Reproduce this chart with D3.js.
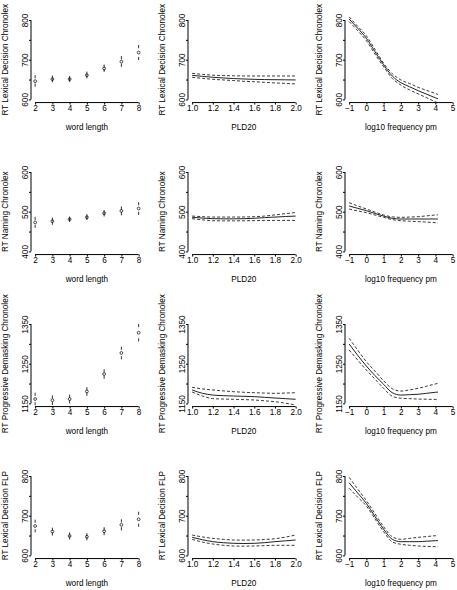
<!DOCTYPE html>
<html>
<head>
<meta charset="utf-8">
<script src="https://cdn.jsdelivr.net/npm/d3@7"></script>
<style>
  html, body { margin: 0; padding: 0; background: #fff; }
  svg text { font-family: "Liberation Sans", Arial, Helvetica, sans-serif; fill: #000; }
</style>
</head>
<body>
<div id="chart"></div>
<script>
// ---------- data ----------
const rowTitles = ["RT Lexical Decision Chronolex", "RT Naming Chronolex",
                   "RT Progressive Demasking Chronolex", "RT Lexical Decision FLP"];
const yLimits = [[600, 800], [400, 600], [1150, 1350], [600, 800]];
const xTitles = ["word length", "PLD20", "log10 frequency pm"];
const xLimits = [[2, 8], [1, 2], [-1, 5]];
const xTickValues = [[2, 3, 4, 5, 6, 7, 8], [1.0, 1.2, 1.4, 1.6, 1.8, 2.0], [-1, 0, 1, 2, 3, 4, 5]];

// word length effects (point estimate, lower, upper)
const wordLength = [2, 3, 4, 5, 6, 7, 8];
const lenFitLDC = [646, 651, 651, 661, 678, 695, 718];
const lenLoLDC  = [636, 647, 648, 657, 673, 686, 703];
const lenHiLDC  = [657, 656, 655, 666, 684, 705, 733];
const lenFitNC  = [473, 476, 481, 486, 496, 502, 508];
const lenLoNC   = [463, 471, 478, 483, 492, 495, 496];
const lenHiNC   = [483, 481, 484, 490, 500, 509, 520];
const lenFitPDC = [1161, 1158, 1161, 1180, 1224, 1277, 1328];
const lenLoPDC  = [1149, 1150, 1154, 1173, 1216, 1265, 1310];
const lenHiPDC  = [1173, 1166, 1168, 1187, 1232, 1289, 1346];
const lenFitFLP = [674, 660, 649, 647, 661, 677, 691];
const lenLoFLP  = [662, 654, 644, 642, 655, 667, 676];
const lenHiFLP  = [686, 666, 654, 652, 667, 687, 706];

// PLD20 effects
const pld20 = [1.0, 1.1, 1.2, 1.3, 1.4, 1.5, 1.6, 1.7, 1.8, 1.9, 2.0];
const pldFitLDC = [660.7, 658, 655.7, 654, 652.5, 651.4, 650.5, 650, 649.6, 649.3, 649];
const pldHiLDC  = [665.7, 663, 661, 660, 659.5, 659, 659, 659, 659, 659, 659];
const pldLoLDC  = [655.7, 653, 650.6, 649, 647.5, 645.6, 644.5, 643, 641.5, 640.3, 639];
const pldFitNC  = [485.9, 484, 482.4, 482, 482, 482.4, 483.5, 485, 486.5, 487.8, 489];
const pldHiNC   = [489, 487.5, 486.5, 486.5, 486.5, 486.7, 487.5, 489, 492, 495, 498];
const pldLoNC   = [482.4, 479.5, 477.4, 477, 477, 477.2, 477.5, 478, 478, 478, 478];
const pldFitPDC = [1183.8, 1175.4, 1171, 1169.5, 1168.6, 1167.8, 1167, 1165.3, 1163.6, 1162, 1160.3];
const pldHiPDC  = [1190.4, 1186.5, 1183.8, 1181.5, 1179.5, 1178, 1177, 1176, 1175.4, 1176, 1177];
const pldLoPDC  = [1178.7, 1168.6, 1162, 1161, 1160.3, 1159.5, 1158.6, 1156.5, 1154.3, 1150.5, 1146];
const pldFitFLP = [645.5, 639.5, 634.6, 632, 630.4, 630, 630.4, 632, 634.6, 636.7, 638.8];
const pldHiFLP  = [651.4, 646.5, 643, 640.5, 638.8, 638.5, 638.8, 640, 642, 646, 651.4];
const pldLoFLP  = [640.5, 633.5, 628.7, 625.5, 623.7, 623.3, 623.7, 624.5, 625.4, 625.4, 625.4];

// log10 frequency effects
const logFreq = [-1, -0.5, 0, 0.5, 1, 1.5, 2, 2.5, 3, 3.5, 4, 4.15];
const frqFitLDC = [802.5, 779, 754, 720, 687, 659, 642, 632, 622, 613, 604, 601.5];
const frqHiLDC  = [808, 784, 760, 726, 691, 665, 649, 640, 630.5, 622.5, 615, 612.5];
const frqLoLDC  = [796, 773, 748, 714, 682, 653, 636, 624, 614, 604, 594, 591];
const frqFitNC  = [514.4, 508.5, 502.6, 495.5, 489, 483.3, 481.6, 481.6, 481.6, 481.6, 481.6, 481.6];
const frqHiNC   = [522.7, 514.5, 506.8, 499, 491.7, 487, 485.8, 486.5, 487.5, 489.5, 491.7, 492.2];
const frqLoNC   = [506.8, 502, 497.6, 491.5, 485.8, 480, 477.4, 476, 475, 473.7, 472.4, 472];
const frqFitPDC = [1299.6, 1271, 1244, 1220, 1198, 1177, 1171, 1172, 1173, 1175.5, 1178, 1178.5];
const frqHiPDC  = [1314, 1284, 1255, 1231, 1207, 1187, 1181, 1184, 1188, 1193.5, 1199, 1200.5];
const frqLoPDC  = [1284.5, 1259, 1234, 1211, 1188, 1168, 1163, 1162, 1161, 1160.5, 1160, 1160];
const frqFitFLP = [783, 757, 731, 698, 666, 640.5, 634.6, 634.6, 634.6, 635.8, 637, 637.3];
const frqHiFLP  = [796.6, 767, 737.8, 705, 672.3, 647, 640.5, 643, 645.5, 647.5, 649.6, 650];
const frqLoFLP  = [769, 746.5, 724.4, 692, 659.7, 634, 628, 625.5, 623.7, 622.8, 622, 621.8];

// ---------- assemble ----------
const lenSets = [[lenFitLDC, lenLoLDC, lenHiLDC], [lenFitNC, lenLoNC, lenHiNC],
                 [lenFitPDC, lenLoPDC, lenHiPDC], [lenFitFLP, lenLoFLP, lenHiFLP]];
const pldSets = [[pldFitLDC, pldLoLDC, pldHiLDC], [pldFitNC, pldLoNC, pldHiNC],
                 [pldFitPDC, pldLoPDC, pldHiPDC], [pldFitFLP, pldLoFLP, pldHiFLP]];
const frqSets = [[frqFitLDC, frqLoLDC, frqHiLDC], [frqFitNC, frqLoNC, frqHiNC],
                 [frqFitPDC, frqLoPDC, frqHiPDC], [frqFitFLP, frqLoFLP, frqHiFLP]];

const W = 457, H = 590;
const svg = d3.select("#chart").append("svg").attr("width", W).attr("height", H);

const FS = 8.2;
const colLeft0 = 31, colStep = 157;
const rowTop0 = 20, rowStep = 152;
const tickSpanX = 103.5;   // px between first and last x tick
const tickSpanY = 79.4;    // px between first and last y tick

function expand(lim) { const d = (lim[1] - lim[0]) * 0.04; return [lim[0] - d, lim[1] + d]; }

for (let r = 0; r < 4; r++) {
  for (let c = 0; c < 3; c++) {
    const left = colLeft0 + colStep * c;
    const topTick = rowTop0 + rowStep * r;
    const xl = expand(xLimits[c]);
    const yl = expand(yLimits[r]);
    const plotW = tickSpanX * 1.08;
    const plotH = tickSpanY * 1.08;
    const top = topTick - tickSpanY * 0.04;
    const bottom = top + plotH;
    const x = d3.scaleLinear().domain(xl).range([left, left + plotW]);
    const y = d3.scaleLinear().domain(yl).range([bottom, top]);

    const g = svg.append("g");
    const clipId = `clip-${r}-${c}`;
    svg.append("clipPath").attr("id", clipId).append("rect")
      .attr("x", left).attr("y", top).attr("width", plotW).attr("height", plotH);

    // x axis
    const xt = xTickValues[c];
    const xfmt = c === 1 ? d3.format(".1f") : d3.format("d");
    const xAxis = d3.axisBottom(x).tickValues(xt).tickFormat(xfmt).tickSizeInner(2).tickSizeOuter(0).tickPadding(0.5);
    const gx = g.append("g").attr("transform", `translate(0,${bottom})`).call(xAxis);
    gx.select(".domain").attr("d", `M${x(xt[0])},0H${x(xt[xt.length - 1])}`).attr("stroke", "#000");
    gx.selectAll(".tick line").attr("stroke", "#000");
    gx.selectAll(".tick text").attr("font-size", FS).attr("font-family", "Liberation Sans, Arial, sans-serif")
      .attr("fill", "#000").attr("dy", "0.71em");

    // y axis
    const yt = d3.range(yLimits[r][0], yLimits[r][1] + 1, 50);
    const yAxis = d3.axisLeft(y).tickValues(yt).tickFormat(d => (d - yLimits[r][0]) % 100 === 0 ? d : "")
      .tickSizeInner(2).tickSizeOuter(0).tickPadding(0);
    const gy = g.append("g").attr("transform", `translate(${left},0)`).call(yAxis);
    gy.select(".domain").attr("d", `M0,${y(yt[0])}V${y(yt[yt.length - 1])}`).attr("stroke", "#000");
    gy.selectAll(".tick line").attr("stroke", "#000");
    gy.selectAll(".tick text").attr("font-size", FS).attr("font-family", "Liberation Sans, Arial, sans-serif")
      .attr("fill", "#000").attr("text-anchor", "middle")
      .attr("x", null).attr("dy", null)
      .attr("transform", "translate(-2.7,0) rotate(-90)");

    // titles
    g.append("text").attr("font-size", FS).attr("text-anchor", "middle")
      .attr("x", left + plotW / 2).attr("y", bottom + 27).text(xTitles[c]);
    g.append("text").attr("font-size", FS).attr("text-anchor", "middle")
      .attr("transform", `translate(${left - 23},${(top + bottom) / 2}) rotate(-90)`).text(rowTitles[r]);

    const marks = g.append("g").attr("clip-path", `url(#${clipId})`);
    if (c === 0) {
      const [fit, lo, hi] = lenSets[r];
      const pts = wordLength.map((v, i) => ({ x: v, fit: fit[i], lo: lo[i], hi: hi[i] }));
      marks.selectAll("circle").data(pts).join("circle")
        .attr("cx", d => x(d.x)).attr("cy", d => y(d.fit)).attr("r", 1.4)
        .attr("fill", "none").attr("stroke", "#000").attr("stroke-width", 0.7);
      const bounds = pts.flatMap(d => [{ x: d.x, v: d.lo }, { x: d.x, v: d.hi }]);
      marks.selectAll("line.ci").data(bounds).join("line").attr("class", "ci")
        .attr("x1", d => x(d.x)).attr("x2", d => x(d.x))
        .attr("y1", d => y(d.v) - 1.6).attr("y2", d => y(d.v) + 1.6)
        .attr("stroke", "#000").attr("stroke-width", 0.8);
    } else {
      const xs = c === 1 ? pld20 : logFreq;
      const [fit, lo, hi] = (c === 1 ? pldSets : frqSets)[r];
      const line = d3.line().curve(d3.curveMonotoneX).x(d => x(d[0])).y(d => y(d[1]));
      const mk = arr => xs.map((v, i) => [v, arr[i]]);
      marks.append("path").attr("d", line(mk(fit))).attr("fill", "none").attr("stroke", "#222").attr("stroke-width", 1);
      [lo, hi].forEach(arr => marks.append("path").attr("d", line(mk(arr))).attr("fill", "none")
        .attr("stroke", "#222").attr("stroke-width", 0.9).attr("stroke-dasharray", "3,2"));
    }
  }
}
</script>
</body>
</html>
